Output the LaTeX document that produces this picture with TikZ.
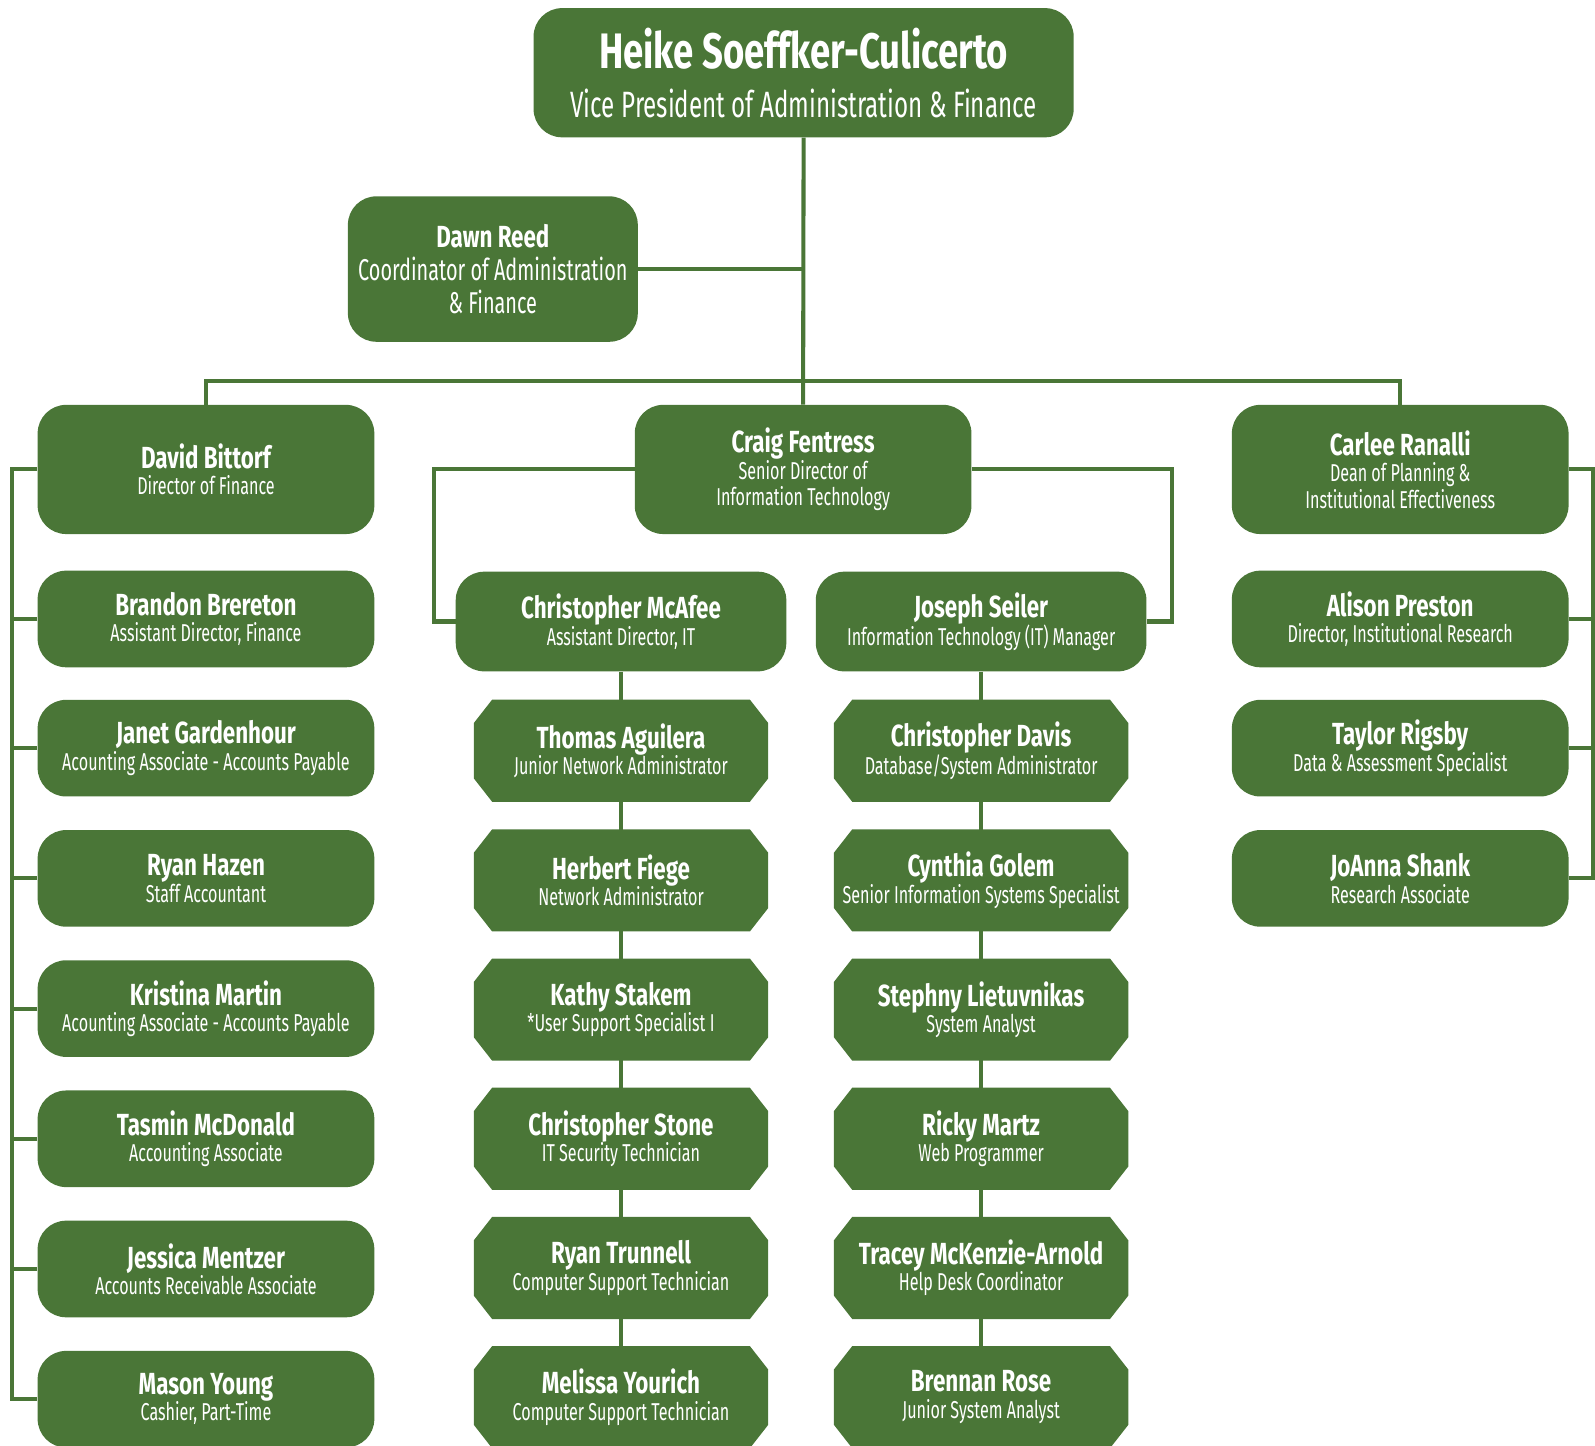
\documentclass[tikz,border=0pt]{standalone}
\usepackage{fontspec}
\newfontfamily\ocf{Fira Sans}[FakeStretch=0.66]
\newfontfamily\nmf{Fira Sans}[FakeStretch=0.733]
\definecolor{og}{HTML}{4A7637}
\newcommand\pname[1]{{\nmf\bfseries\fontsize{30}{26}\selectfont #1}}
\usetikzlibrary{backgrounds}
\tikzset{
  txt/.style={text=white, align=center, font=\ocf\fontsize{24}{26}\selectfont, inner sep=0pt},
  rbox/.style={txt, fill=og, rounded corners=28pt},
  bigbox/.style={rbox, minimum width=331pt, minimum height=127pt},
  smallbox/.style={rbox, minimum width=331pt, minimum height=95pt},
  itbox/.style={rbox, minimum width=325pt, minimum height=98pt},
  octo/.style={txt, minimum width=289pt, minimum height=100pt},
  conn/.style={draw=og, line width=4pt},
}
\newcommand\octfill[1]{%
  \begin{pgfonlayer}{background}
  \fill[og] ([xshift=18pt]#1.north west) -- ([xshift=-18pt]#1.north east)
    -- ([yshift=-23pt]#1.north east) -- ([yshift=23pt]#1.south east)
    -- ([xshift=-18pt]#1.south east) -- ([xshift=18pt]#1.south west)
    -- ([yshift=23pt]#1.south west) -- ([yshift=-23pt]#1.north west) -- cycle;
  \end{pgfonlayer}}
\begin{document}
\begin{tikzpicture}[x=1pt,y=-1pt]
\useasboundingbox (0,0) rectangle (1568,1420.6);
% top
\node[rbox, minimum width=531pt, minimum height=127pt, text depth=0pt, font=\ocf\fontsize{36}{50}\selectfont] (vp) at (790,71.5)
  {{\nmf\bfseries\fontsize{49}{50}\selectfont Heike Soeffker-Culicerto}\\[-2pt]Vice President of Administration \& Finance};
\node[rbox, minimum width=285pt, minimum height=143pt, font=\ocf\fontsize{29.6}{32}\selectfont] (dawn) at (484.5,264.5)
  {{\nmf\bfseries\fontsize{30}{32}\selectfont Dawn Reed}\\Coordinator of Administration\\\& Finance};
% level 2
\node[bigbox] (david) at (202.5,461.5) {\pname{David Bittorf}\\Director of Finance};
\node[bigbox] (craig) at (789.5,461.5) {\pname{Craig Fentress}\\Senior Director of\\Information Technology};
\node[bigbox] (carlee) at (1376.5,461.5) {\pname{Carlee Ranalli}\\Dean of Planning \&\\Institutional Effectiveness};
% finance
\node[smallbox] (brandon) at (202.5,608.5) {\pname{Brandon Brereton}\\Assistant Director, Finance};
\node[smallbox] (janet) at (202.5,735.5) {\pname{Janet Gardenhour}\\Acounting Associate - Accounts Payable};
\node[smallbox] (ryan) at (202.5,863.5) {\pname{Ryan Hazen}\\Staff Accountant};
\node[smallbox] (kristina) at (202.5,991.5) {\pname{Kristina Martin}\\Acounting Associate - Accounts Payable};
\node[smallbox] (tasmin) at (202.5,1119.5) {\pname{Tasmin McDonald}\\Accounting Associate};
\node[smallbox] (jessica) at (202.5,1247.5) {\pname{Jessica Mentzer}\\Accounts Receivable Associate};
\node[smallbox] (mason) at (202.5,1375.5) {\pname{Mason Young}\\Cashier, Part-Time};
% planning
\node[smallbox] (alison) at (1376.5,608.5) {\pname{Alison Preston}\\Director, Institutional Research};
\node[smallbox] (taylor) at (1376.5,735.5) {\pname{Taylor Rigsby}\\Data \& Assessment Specialist};
\node[smallbox] (joanna) at (1376.5,863.5) {\pname{JoAnna Shank}\\Research Associate};
% IT
\node[itbox] (mcafee) at (610.5,611) {\pname{Christopher McAfee}\\Assistant Director, IT};
\node[itbox] (seiler) at (964.5,611) {\pname{Joseph Seiler}\\Information Technology (IT) Manager};
\node[octo] (thomas) at (610.5,738) {\pname{Thomas Aguilera}\\Junior Network Administrator};
\node[octo] (herbert) at (610.5,865.5) {\pname{Herbert Fiege}\\Network Administrator};
\node[octo] (kathy) at (610.5,992.5) {\pname{Kathy Stakem}\\*User Support Specialist I};
\node[octo] (cstone) at (610.5,1119.5) {\pname{Christopher Stone}\\IT Security Technician};
\node[octo] (trunnell) at (610.5,1246.5) {\pname{Ryan Trunnell}\\Computer Support Technician};
\node[octo] (melissa) at (610.5,1373.5) {\pname{Melissa Yourich}\\Computer Support Technician};
\node[octo] (cdavis) at (964.5,738) {\pname{Christopher Davis}\\Database/System Administrator};
\node[octo] (cynthia) at (964.5,865.5) {\pname{Cynthia Golem}\\Senior Information Systems Specialist};
\node[octo] (stephny) at (964.5,992.5) {\pname{Stephny Lietuvnikas}\\System Analyst};
\node[octo] (ricky) at (964.5,1119.5) {\pname{Ricky Martz}\\Web Programmer};
\node[octo] (tracey) at (964.5,1246.5) {\pname{Tracey McKenzie-Arnold}\\Help Desk Coordinator};
\node[octo] (brennan) at (964.5,1373.5) {\pname{Brennan Rose}\\Junior System Analyst};
\foreach \n in {thomas,herbert,kathy,cstone,trunnell,melissa,cdavis,cynthia,stephny,ricky,tracey,brennan}{\octfill{\n}}
% connectors
\coordinate (hub) at (790,375);
\coordinate (lsp) at (12,0);
\coordinate (rsp) at (1566,0);
\coordinate (lit) at (427,0);
\coordinate (rit) at (1152,0);
\begin{pgfonlayer}{background}
\draw[conn] (vp.south) -- (craig.north);
\draw[conn] (dawn.east) -- (dawn.east -| vp.south);
\draw[conn] (david.north) |- (hub) -| (carlee.north);
\draw[conn] (david.west) -- (david.west -| lsp) |- (mason.west);
\foreach \n in {brandon,janet,ryan,kristina,tasmin,jessica}{\draw[conn] (\n.west) -- (\n.west -| lsp);}
\draw[conn] (carlee.east) -- (carlee.east -| rsp) |- (joanna.east);
\foreach \n in {alison,taylor}{\draw[conn] (\n.east) -- (\n.east -| rsp);}
\draw[conn] (craig.west) -- (craig.west -| lit) |- (mcafee.west);
\draw[conn] (craig.east) -- (craig.east -| rit) |- (seiler.east);
\draw[conn] (mcafee.south) -- (melissa.north);
\draw[conn] (seiler.south) -- (brennan.north);
\end{pgfonlayer}
\end{tikzpicture}
\end{document}
